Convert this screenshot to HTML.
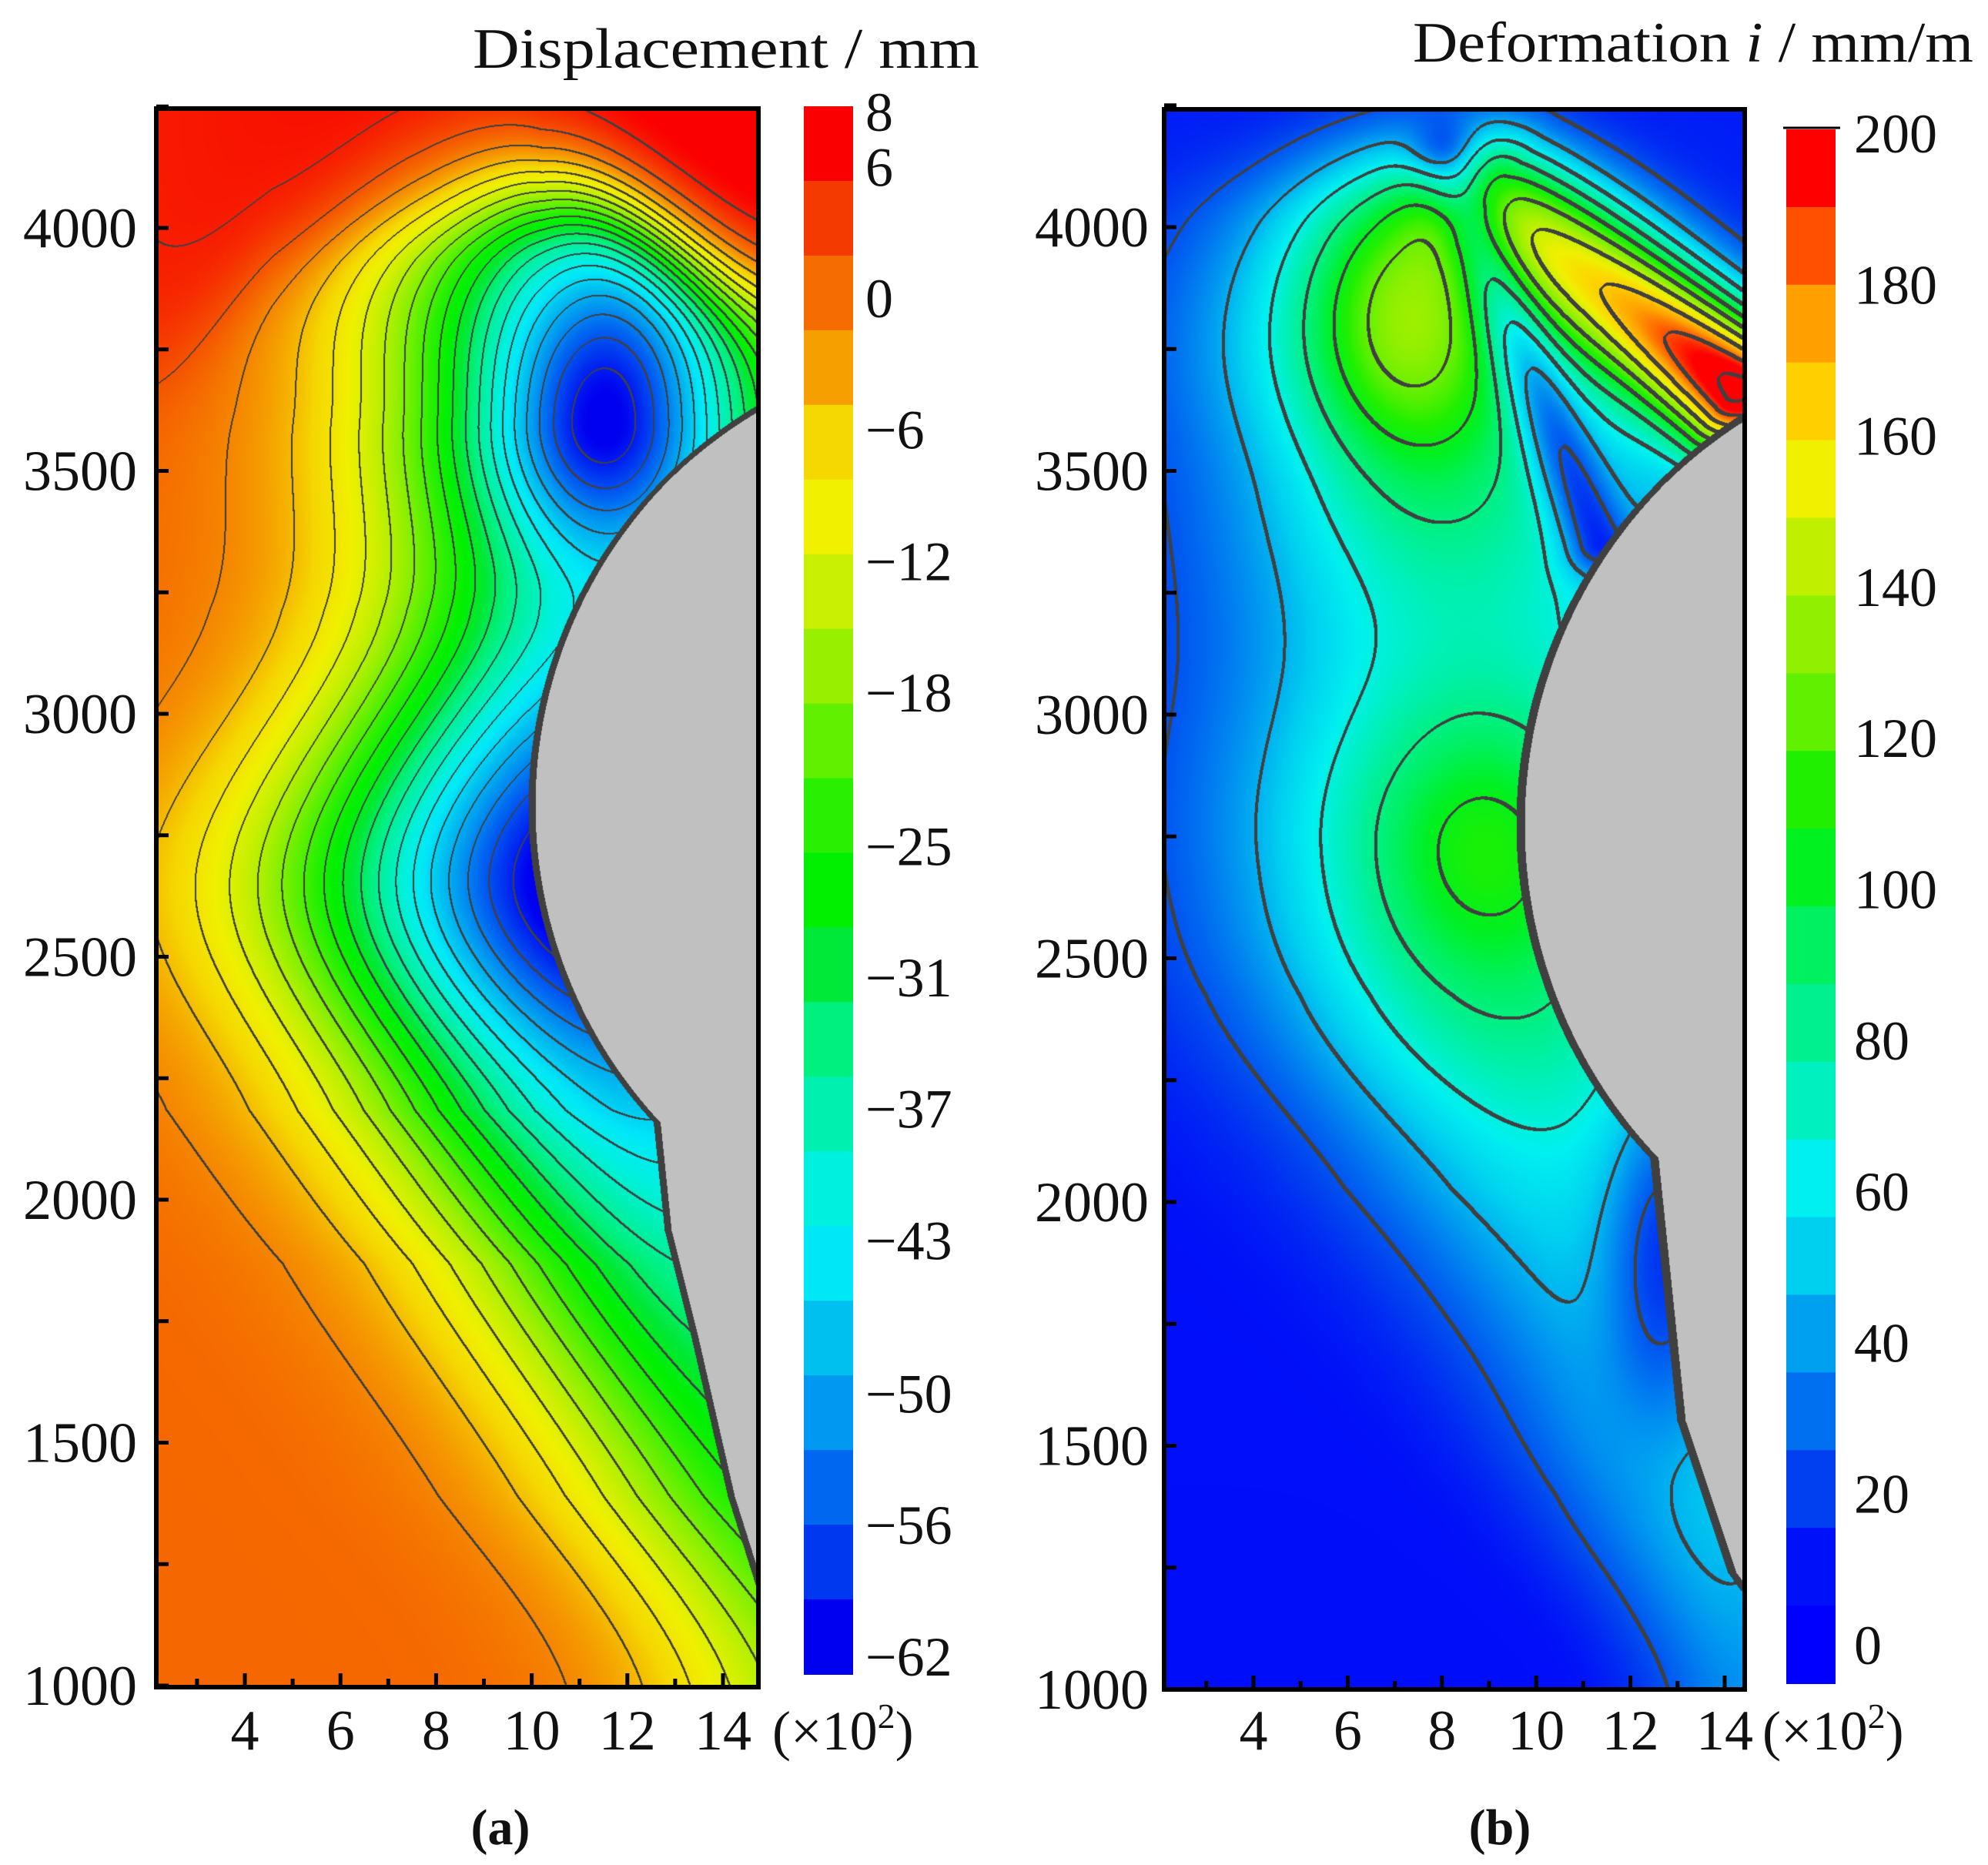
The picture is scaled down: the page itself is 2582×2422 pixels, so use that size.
<!DOCTYPE html>
<html><head><meta charset="utf-8">
<style>
html,body{margin:0;padding:0;background:#fff;}
#wrap{position:relative;width:2582px;height:2422px;overflow:hidden;background:#fff;}
canvas{position:absolute;}
svg{position:absolute;left:0;top:0;}
text{font-family:"Liberation Serif",serif;fill:#111;}
</style></head>
<body>
<div id="wrap">
<canvas id="cA" width="782" height="2048" style="left:204px;top:142px"></canvas>
<canvas id="cB" width="752" height="2050" style="left:1514px;top:144px"></canvas>
<svg id="ov" width="2582" height="2422"></svg>
</div>
<script>
// ---------- data ----------
const yTicks = [1000,1500,2000,2500,3000,3500,4000];
const xTicks = [4,6,8,10,12,14];
const cbALabels = ["8","6","0","\u22126","\u221212","\u221218","\u221225","\u221231","\u221237","\u221243","\u221250","\u221256","\u221262"];
const cbAValues = [8,6,0,-6,-12,-18,-25,-31,-37,-43,-50,-56,-62];
const cbAColors = ["#fa0000","#f53a00","#f56c00","#f5a000","#f5d800","#f0f000","#c8f000","#98f000","#60f000","#28f000","#00f000","#00e838","#00f080","#00f0b0","#00f0e0","#00e8f8","#00c0f0","#0098f0","#0068f0","#0038f0","#0000f0"];
const cbBLabels = ["0","20","40","60","80","100","120","140","160","180","200"];
const cbBValues = [0,20,40,60,80,100,120,140,160,180,200];
const cbBColors = ["#0000ff","#0010f8","#0040f0","#0070f0","#00a0f0","#00d0f0","#00f0f0","#00f0c0","#00f090","#00f060","#00f020","#20f000","#60f000","#90f000","#c0f000","#f0f000","#ffd000","#ffa000","#ff5000","#ff0000"];
// displacement spine (local px rows) and amplitude
const spAY = [0,200,405,650,1000,1300,1500,1800,2048];
const spAC = [700,620,590,600,575,640,730,860,960];
const spAA = [-20,-45,-45,-42,-64,-46,-36,-28,-22];
const spAS = [150,200,200,215,262,250,235,215,195];
// deformation spine
const spBY = [0,150,300,500,700,950,1150,1400,1600,1800,2050];
const spBC = [330,320,330,380,400,430,450,520,620,700,760];
const spBA = [0,55,75,68,62,85,75,48,40,42,30];
const spBS = [140,170,190,210,220,230,220,190,170,140,100];

const NS="http://www.w3.org/2000/svg";
const ov=document.getElementById('ov');
function mk(tag,attrs,parent){const e=document.createElementNS(NS,tag);for(const k in attrs)e.setAttribute(k,attrs[k]);(parent||ov).appendChild(e);return e;}
function lerp(xs,ys,x){const n=xs.length;if(x<=xs[0])return ys[0];if(x>=xs[n-1])return ys[n-1];
  let i=1;while(x>xs[i])i++;const t=(x-xs[i-1])/(xs[i]-xs[i-1]);
  const p0=ys[Math.max(0,i-2)],p1=ys[i-1],p2=ys[i],p3=ys[Math.min(n-1,i+1)];
  const t2=t*t,t3=t2*t;
  return 0.5*((2*p1)+(-p0+p2)*t+(2*p0-5*p1+4*p2-p3)*t2+(-p0+3*p1-3*p2+p3)*t3);}
function hex(c){return [parseInt(c.substr(1,2),16),parseInt(c.substr(3,2),16),parseInt(c.substr(5,2),16)];}
function inPoly(px,py,poly){let c=false;for(let i=0,j=poly.length-1;i<poly.length;j=i++){const [xi,yi]=poly[i],[xj,yj]=poly[j];if(((yi>py)!=(yj>py))&&(px<(xj-xi)*(py-yi)/(yj-yi)+xi))c=!c;}return c;}
function g2(x,y,cx,cy,sx,sy){const dx=(x-cx)/sx,dy=(y-cy)/sy;return Math.exp(-0.5*(dx*dx+dy*dy));}
function segG(x,y,x1,y1,x2,y2,s){const vx=x2-x1,vy=y2-y1;let t=((x-x1)*vx+(y-y1)*vy)/(vx*vx+vy*vy);t=Math.max(0,Math.min(1,t));const dx=x-(x1+t*vx),dy=y-(y1+t*vy);return [Math.exp(-(dx*dx+dy*dy)/(2*s*s)),t];}

function render(canvas,field,cavity,bandOf,fracColor,lineW){
  const W=canvas.width,H=canvas.height,ctx=canvas.getContext('2d');
  const img=ctx.createImageData(W,H),d=img.data;
  const band=new Int16Array(W*H),val=new Float32Array(W*H);
  for(let y=0;y<H;y++)for(let x=0;x<W;x++){const i=y*W+x;
    if(cavity(x,y)){band[i]=-999;continue;}
    const v=field(x,y);val[i]=v;band[i]=bandOf(v);}
  for(let y=0;y<H;y++)for(let x=0;x<W;x++){const i=y*W+x,o=i*4;let c;
    const b=band[i];
    let edge=false;
    for(let k=1;k<=lineW&&!edge;k++){
      if(x+k<W&&band[i+k]!==b)edge=true;
      if(y+k<H&&band[i+k*W]!==b)edge=true;}
    if(b===-999){
      let near=false;for(let k=1;k<=7&&!near;k++){if(x-k>=0&&band[i-k]!==-999)near=true;if(y+k<H&&band[i+k*W]!==-999)near=true;if(y-k>=0&&band[i-k*W]!==-999)near=true;}
      c=near?[64,64,64]:[192,192,192];
    } else if(edge){c=[64,64,64];}
    else c=fracColor(val[i]);
    d[o]=c[0];d[o+1]=c[1];d[o+2]=c[2];d[o+3]=255;}
  ctx.putImageData(img,0,0);
}

// ---------- panel A ----------
const colA=cbAColors.map(hex);
function bandA(v){return v>=3.66?0:Math.min(20,Math.floor((3.66-v)/3.32)+1);}
function colorA(v){let p=(3.66-v)/3.32+0.5;p=Math.max(0,Math.min(20,p));const k=Math.floor(p),t=p-k;const a=colA[k],b=colA[Math.min(20,k+1)];return [a[0]+(b[0]-a[0])*t,a[1]+(b[1]-a[1])*t,a[2]+(b[2]-a[2])*t];}
const topXs=[0,150,350,500,782], topYs=[330,190,45,60,250];
function fieldA(x,y){
  const c=lerp(spAY,spAC,y),A=lerp(spAY,spAA,y),s=lerp(spAY,spAS,y);
  const dx=x-c;let sp=A*Math.exp(-dx*dx/(2*s*s))+(-16)*g2(x,y,575,410,95,110);
  const T=1/(1+Math.exp(-(lerp(topXs,topYs,x)-y)/45));
  return -1+sp*(1-T)+8*T*(0.6+0.4*x/782);
}
const polyA=[[644,1291],[661,1456],[694,1587],[743,1801],[782,1925],[782,1258]];
function cavA(x,y){const dx=x-1086,dy=y-904;return dx*dx+dy*dy<602*602||inPoly(x,y,polyA);}
render(document.getElementById('cA'),fieldA,cavA,bandA,colorA,2);

// ---------- panel B ----------
const colB=cbBColors.map(hex);
function bandB(v){return Math.floor(v/20);}
function colorB(v){let p=(v+5)/10.25;p=Math.max(0,Math.min(19,p));const k=Math.floor(p),t=p-k;const a=colB[k],b=colB[Math.min(19,k+1)];return [a[0]+(b[0]-a[0])*t,a[1]+(b[1]-a[1])*t,a[2]+(b[2]-a[2])*t];}
function fieldB(x,y){
  const c=lerp(spBY,spBC,y),A=lerp(spBY,spBA,y),s=lerp(spBY,spBS,y);
  const dx=x-c;let v=8-5*y/2050+A*Math.exp(-dx*dx/(2*s*s));
  v+=50*g2(x,y,315,250,95,150);
  v+=15*g2(x,y,400,960,100,120);
  const st=segG(x,y,431,110,743,360,65);v+=st[0]*(70+120*st[1]);
  const vl=segG(x,y,365,60,560,560,32);v-=45*vl[0];
  v-=30*g2(x,y,640,1500,50,150);
  return v;
}
const polyB=[[545,1174],[586,1256],[627,1305],[668,1701],[734,1898],[752,1923],[752,1156]];
function cavB(x,y){const dx=x-1087,dy=y-926;return dx*dx+dy*dy<628*628||inPoly(x,y,polyB);}
render(document.getElementById('cB'),fieldB,cavB,bandB,colorB,4);

// ---------- axes ----------
function panel(o){
  const {L,R,T,B,yOf,xOf,cbx,cbT,cbB,cbColors,cbLabels,cbValues,cbY,cbLx,title,tx,tlen,ty,unitX,letter,lx,tickLabelEnd,name}=o;
  const n=cbColors.length;
  const cb=mk('g',{});
  for(let k=0;k<n;k++){
    const y0=cbT+(cbB-cbT)*k/n,y1=cbT+(cbB-cbT)*(k+1)/n;
    const r=mk('rect',{x:cbx,y:y0,width:64,height:y1-y0+1,fill:cbColors[n-1-k]},cb);
    
    
  }
  for(let i=0;i<cbLabels.length;i++){
    const t=mk('text',{x:cbLx,y:cbY(cbValues[i])+25,'font-size':72},cb);
    t.textContent=cbLabels[i];
    
    
  }
  mk('rect',{x:L,y:T,width:R-L,height:B-T,fill:'none',stroke:'#000','stroke-width':6,});
  for(let v=1000;v<=4250;v+=250){const y=yOf(v);mk('line',{x1:L,x2:L+16,y1:y,y2:y,stroke:'#000','stroke-width':5});}
  for(const v of yTicks){const t=mk('text',{x:tickLabelEnd,y:yOf(v)+25,'font-size':74,'text-anchor':'end'});t.textContent=v;
    }
  for(let v=3;v<=14;v++){const x=xOf(v);mk('line',{x1:x,x2:x,y1:B,y2:B-(v%2===0?18:11),stroke:'#000','stroke-width':5});}
  for(const v of xTicks){const t=mk('text',{x:xOf(v),y:2272,'font-size':74,'text-anchor':'middle'});t.textContent=v;
    }
  const u=mk('text',{x:unitX,y:2272,'font-size':72,});
  u.innerHTML='(×10<tspan dy="-28" font-size="46">2</tspan><tspan dy="28">)</tspan>';
  const tt=mk('text',{x:tx,y:ty,'font-size':74,textLength:tlen,lengthAdjust:'spacingAndGlyphs',});
  tt.innerHTML=title;
  const lt=mk('text',{x:lx,y:2395,'font-size':66,'text-anchor':'middle','font-weight':'bold',});
  lt.innerHTML='(<tspan>'+letter+'</tspan>)';
}
panel({name:'displacement',L:203,R:985,T:141,B:2191,
  yOf:v=>2189-(v-1000)*0.631,xOf:v=>318+(v-4)*62.1,
  cbx:1044,cbT:138,cbB:2174,cbColors:cbAColors.slice().reverse(),cbLabels:cbALabels,cbValues:cbAValues,
  cbY:v=>v===8?145:387-28.45*v,cbLx:1124,title:'Displacement / mm',tx:614,tlen:658,ty:88,unitX:1003,letter:'a',lx:650,tickLabelEnd:178});
panel({name:'deformation',L:1512,R:2266,T:142,B:2194,
  yOf:v=>2194-(v-1000)*0.633,xOf:v=>1628+(v-4)*61.2,
  cbx:2320,cbT:168,cbB:2186,cbColors:cbBColors,cbLabels:cbBLabels,cbValues:cbBValues,
  cbY:v=>2136-9.815*v,cbLx:2408,title:'Deformation <tspan font-style="italic">i</tspan> / mm/m',tx:1835,tlen:728,ty:80,unitX:2289,letter:'b',lx:1948,tickLabelEnd:1492});
mk('line',{x1:2316,x2:2390,y1:166,y2:166,stroke:'#000','stroke-width':3});
</script>
</body></html>
